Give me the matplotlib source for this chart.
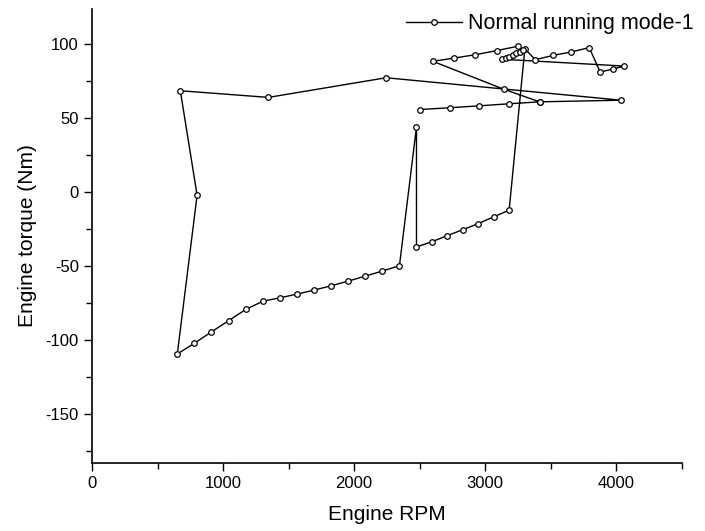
import matplotlib
matplotlib.use("Agg")
import matplotlib.pyplot as plt
from matplotlib.ticker import MultipleLocator

plt.rcParams['font.family'] = ['Liberation Sans', 'DejaVu Sans']
plt.rcParams['axes.unicode_minus'] = False

# Engine operating points in recorded order (RPM, torque in Nm)
rpm = [2504, 2731, 2956, 3185, 3415,
       4038, 2244, 1346, 674, 802,
       651, 781, 911, 1044, 1176, 1305, 1435, 1565, 1695, 1824, 1956, 2086, 2216, 2346,
       2476, 2476, 2595, 2712, 2830, 2947, 3066, 3183,
       3303, 3382, 3521, 3656, 3794, 3878, 3972, 4063,
       3132, 3160, 3185, 3214, 3239, 3265, 3288,
       3250, 3089, 2926, 2763, 2601, 3140, 3415]
torque = [56.0, 57.2, 58.5, 59.9, 61.2,
          62.3, 77.5, 64.2, 68.7, -2.0,
          -109.4, -102.2, -94.5, -86.8, -79.1, -73.7, -71.4, -68.9, -66.2, -63.3, -60.1, -56.7, -53.3, -49.7,
          44.3, -37.0, -33.4, -29.3, -25.3, -21.2, -16.6, -12.1,
          97.2, 89.7, 92.7, 94.9, 97.9, 81.3, 83.4, 85.4,
          90.0, 90.8, 91.8, 92.9, 94.0, 94.9, 96.3,
          98.8, 95.9, 93.1, 90.8, 88.6, 69.8, 61.2]

series_label = "Normal running mode-1"
x_title = "Engine RPM"
y_title = "Engine torque (Nm)"
x_ticks = [0, 1000, 2000, 3000, 4000]
y_ticks = [-150, -100, -50, 0, 50, 100]

fig = plt.figure(figsize=(7.05, 5.31), dpi=100)
ax = fig.add_axes([0.1305, 0.1286, 0.8365, 0.8544])

ax.plot(rpm, torque, color='black', linewidth=1.0, marker='o', markersize=4,
        markerfacecolor='white', markeredgecolor='black', markeredgewidth=0.9,
        label=series_label)

ax.set_xlim(0, 4500)
ax.set_ylim(-183, 124)
ax.set_xticks(x_ticks)
ax.set_yticks(y_ticks)
ax.xaxis.set_minor_locator(MultipleLocator(500))
ax.yaxis.set_minor_locator(MultipleLocator(25))

for side in ('top', 'right'):
    ax.spines[side].set_visible(False)
for side in ('left', 'bottom'):
    ax.spines[side].set_linewidth(1.2)

ax.tick_params(which='major', direction='out', length=6, width=1.0, labelsize=12)
ax.tick_params(which='minor', direction='out', length=4, width=1.0)

ax.set_xlabel(x_title, fontsize=15, labelpad=10)
ax.set_ylabel(y_title, fontsize=15, labelpad=6)

leg = ax.legend(loc='upper right', frameon=False, fontsize=15.5, numpoints=1,
                handlelength=2.6, handletextpad=0.3, borderaxespad=0.0,
                bbox_to_anchor=(1.035, 1.01))

fig.savefig("out.png", dpi=100)
